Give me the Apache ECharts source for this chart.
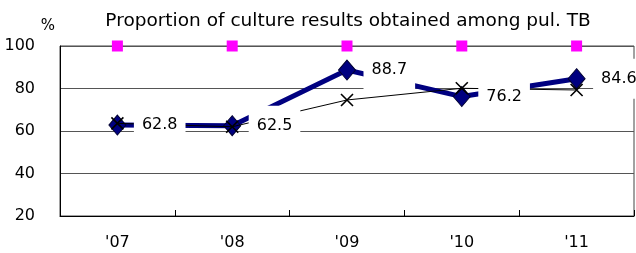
<!DOCTYPE html>
<html><head><meta charset="utf-8">
<script src="https://cdn.jsdelivr.net/npm/echarts@6/dist/echarts.min.js"></script>
<style>html,body{margin:0;padding:0;background:#fff}#c{width:636px;height:253px}</style>
</head><body><div id="c"></div>
<script>
const years = ["'07", "'08", "'09", "'10", "'11"];
const targetLevel = [100, 100, 100, 100, 100];
const cultureObtained = [62.8, 62.5, 88.7, 76.2, 84.6];
const comparisonSeries = [63.6, 62.0, 74.6, 80.1, 79.3];
const yMin = 20, yMax = 100, yStep = 20;
const titleText = 'Proportion of culture results obtained among pul. TB';
const unitText = '%';

const FONT = 'DejaVu Sans';
const chart = echarts.init(document.getElementById('c'), null, {renderer: 'canvas'});
chart.setOption({
  animation: false,
  backgroundColor: '#fff',
  textStyle: {fontFamily: FONT},
  graphic: [
    {type: 'text', x: 348, y: 21, style: {text: titleText, font: '18.5px "DejaVu Sans"', fill: '#000', align: 'center', verticalAlign: 'middle'}},
    {type: 'text', x: 48, y: 26, style: {text: unitText, font: '15px "DejaVu Sans"', fill: '#000', align: 'center', verticalAlign: 'middle'}}
  ],
  grid: {left: 60, right: 2, top: 46, bottom: 37, show: true, borderColor: '#444', borderWidth: 1, containLabel: false},
  xAxis: {
    type: 'category', data: years, boundaryGap: true,
    axisLine: {lineStyle: {color: '#000', width: 1}},
    axisTick: {show: true, inside: true, length: 6, alignWithLabel: false, lineStyle: {color: '#000'}},
    axisLabel: {fontSize: 16, color: '#000', margin: 19, fontFamily: FONT},
    splitLine: {show: false}
  },
  yAxis: {
    type: 'value', min: yMin, max: yMax, interval: yStep,
    axisLine: {show: true, lineStyle: {color: '#000', width: 1}},
    axisTick: {show: false},
    axisLabel: {fontSize: 16, color: '#000', margin: 25, fontFamily: FONT},
    splitLine: {show: true, lineStyle: {color: '#555', width: 1}}
  },
  series: [
    {
      type: 'scatter', data: targetLevel, symbol: 'rect', symbolSize: 11,
      itemStyle: {color: '#ff00ff', opacity: 1}, z: 2, silent: true
    },
    {
      type: 'line', data: cultureObtained, symbol: 'diamond', symbolSize: [17, 20],
      lineStyle: {color: '#000080', width: 5},
      itemStyle: {color: '#000080', borderColor: '#000030', borderWidth: 1},
      z: 2, silent: true
    },
    {
      type: 'line', data: comparisonSeries,
      symbol: 'path://M0,0L10,10M10,0L0,10', symbolSize: 12,
      lineStyle: {color: '#000', width: 1},
      itemStyle: {color: '#000', borderColor: '#000', borderWidth: 1.6},
      z: 3, silent: true
    },
    {
      type: 'scatter', data: cultureObtained, symbol: 'circle', symbolSize: 1,
      itemStyle: {color: 'rgba(0,0,0,0)', opacity: 1},
      label: {
        show: true, position: 'right', distance: 16,
        backgroundColor: '#fff', padding: [10, 8], lineHeight: 20,
        fontSize: 16, color: '#000', fontFamily: FONT, opacity: 1,
        formatter: p => p.value.toFixed(1)
      },
      z: 5, silent: true
    }
  ]
});
</script></body></html>
